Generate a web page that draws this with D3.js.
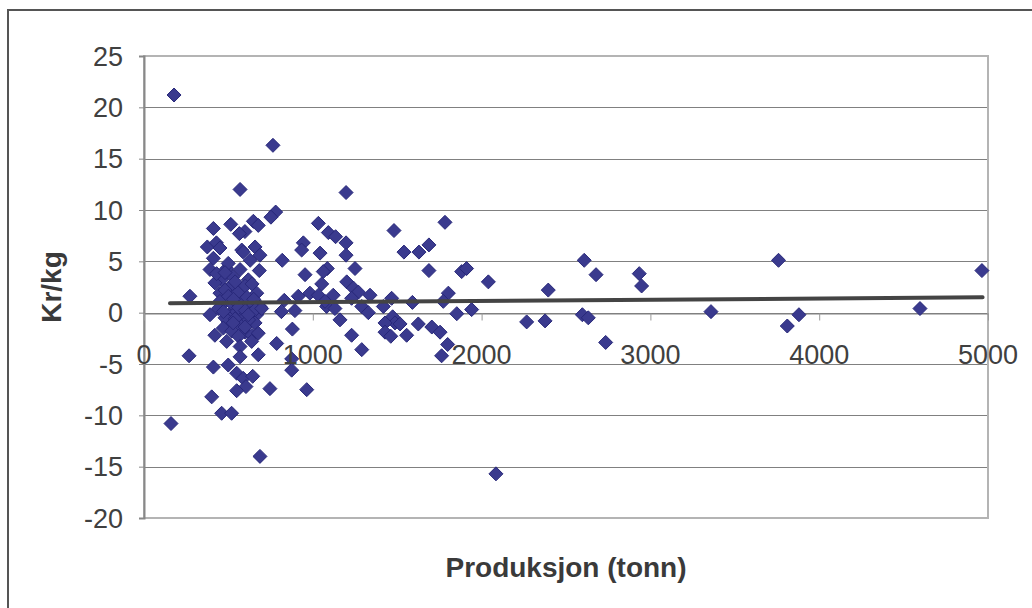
<!DOCTYPE html>
<html>
<head>
<meta charset="utf-8">
<script src="https://cdn.jsdelivr.net/npm/d3@7"></script>
<style>
  html, body { margin: 0; padding: 0; background: #fff; }
  svg { display: block; }
  text { font-family: "Liberation Sans", Arial, sans-serif; }
</style>
</head>
<body>
<svg id="chart" width="1032" height="608"></svg>
<script>
// Production per farm (tonn) and result (Kr/kg)
const produksjon = [
  178, 160, 272, 267, 569, 411, 514, 648, 677, 598, 565, 375, 429, 450, 579, 658,
  411, 629, 687, 391, 490, 569, 683, 460, 528, 618, 420, 510, 450, 569, 668, 470,
  629, 391, 510, 588, 668, 499, 588, 480, 558, 519, 588, 687, 450, 549, 629, 499,
  569, 658, 430, 480, 540, 600, 640, 500, 530, 610, 650, 440, 560, 600, 660, 480,
  540, 620, 470, 520, 600, 560, 640, 470, 618, 528, 598, 420, 490, 569, 638, 569,
  677, 411, 499, 549, 588, 644, 604, 549, 401, 460, 519, 687, 780, 752, 764, 944,
  934, 819, 954, 914, 831, 697, 814, 894, 677, 879, 786, 875, 875, 746, 964, 983,
  1033, 1092, 1135, 1197, 1197, 1043, 1481, 1783, 1540, 1629, 1688, 1250, 1086, 1062, 1688, 1882,
  1911, 2040, 1053, 1201, 1240, 1270, 1121, 1339, 1230, 1467, 1590, 1803, 1773, 1082, 1131, 1290,
  1418, 1329, 1853, 1941, 1161, 1473, 1487, 1428, 1517, 1625, 1705, 1754, 1428, 1462, 1556, 1230,
  1799, 1290, 1763, 1197, 2085, 1033, 1072, 2267, 2376, 2395, 2608, 2678, 2597, 2632, 2735, 2934,
  2948, 3359, 3759, 3880, 3811, 4597, 4964
];
const krPerKg = [
  21.2, -10.8, 1.6, -4.2, 12.0, 8.2, 8.6, 8.9, 8.5, 7.9, 7.7, 6.4, 6.8, 6.3, 6.1, 6.4,
  5.3, 5.1, 5.6, 4.2, 4.3, 4.2, 4.1, 3.2, 3.5, 3.2, 2.9, 2.5, 1.9, 2.2, 1.9, 0.9,
  0.8, -0.2, -0.1, -0.4, -0.2, 4.8, 5.9, 2.2, 2.0, 0.9, 1.1, 0.6, 1.1, 0.1, -0.1, -0.9,
  -1.2, -1.0, 3.8, 3.9, 3.0, 2.6, 2.8, 1.6, 1.3, 1.5, 1.3, 0.4, 0.5, 0.2, 0.3, -0.5,
  -0.6, -0.7, -1.5, -1.8, -1.9, -2.3, -2.2, 0.1, -0.2, -1.0, -1.4, -2.2, -2.8, -3.3, -2.8, -4.3,
  -4.1, -5.3, -5.1, -5.9, -6.4, -6.2, -7.2, -7.6, -8.2, -9.8, -9.8, -14.0, 9.8, 9.3, 16.3, 6.8,
  6.1, 5.1, 3.7, 1.6, 1.2, 0.4, 0.1, 0.2, -2.0, -1.6, -3.0, -4.5, -5.6, -7.4, -7.5, 1.9,
  8.7, 7.8, 7.4, 6.8, 5.6, 5.8, 8.0, 8.8, 5.9, 5.9, 6.6, 4.3, 4.3, 4.0, 4.1, 4.0,
  4.3, 3.0, 2.8, 3.0, 2.4, 2.0, 1.7, 1.7, 1.4, 1.4, 1.0, 1.9, 1.1, 0.6, 0.4, 0.6,
  0.6, 0.0, -0.1, 0.3, -0.7, -0.4, -1.0, -1.0, -1.1, -1.1, -1.4, -1.9, -1.9, -2.3, -2.2, -2.2,
  -3.1, -3.6, -4.2, 11.7, -15.7, 1.7, 1.1, -0.9, -0.8, 2.2, 5.1, 3.7, -0.2, -0.5, -2.9, 3.8,
  2.6, 0.1, 5.1, -0.2, -1.3, 0.4, 4.1
];

// Linear trend line (fitted coefficients) and its span
const trendIntercept = 0.90;
const trendSlope = 0.00012;
const trendRange = [154, 4968];

const xTicks = [0, 1000, 2000, 3000, 4000, 5000];
const yTicks = [25, 20, 15, 10, 5, 0, -5, -10, -15, -20];
const xTitle = "Produksjon (tonn)";
const yTitle = "Kr/kg";

const svg = d3.select("#chart");
const plot = { left: 144, top: 56, right: 988, bottom: 518 };

const x = d3.scaleLinear().domain([0, 5000]).range([plot.left, plot.right]);
const y = d3.scaleLinear().domain([-20, 25]).range([plot.bottom, plot.top]);

// Chart frame
svg.append("rect").attr("width", 1032).attr("height", 608).attr("fill", "#fff");
svg.append("path")
  .attr("d", "M8,608V10H1032")
  .attr("fill", "none").attr("stroke", "#555").attr("stroke-width", 2);

// Horizontal gridlines
svg.append("g")
  .selectAll("line")
  .data(yTicks.filter(v => v !== 25 && v !== -20))
  .join("line")
  .attr("x1", plot.left).attr("x2", plot.right)
  .attr("y1", d => Math.round(y(d)) + 0.5).attr("y2", d => Math.round(y(d)) + 0.5)
  .attr("stroke", "#808080").attr("stroke-width", 1);

// Plot area border
svg.append("rect")
  .attr("x", plot.left).attr("y", plot.top)
  .attr("width", plot.right - plot.left).attr("height", plot.bottom - plot.top)
  .attr("fill", "none").attr("stroke", "#b4b4b4").attr("stroke-width", 2);

// Y axis
const yAxis = d3.axisLeft(y).tickValues(yTicks).tickSize(5).tickFormat("");
const gy = svg.append("g").attr("transform", `translate(${plot.left},0)`).call(yAxis);
gy.select(".domain").attr("stroke", "#888").attr("stroke-width", 2);
gy.selectAll(".tick line").attr("stroke", "#888");

// X axis crosses at zero
const xAxis = d3.axisBottom(x).tickValues(xTicks).tickSize(7).tickSizeOuter(0).tickFormat("");
const gx = svg.append("g").attr("transform", `translate(0,${Math.round(y(0)) + 0.5})`).call(xAxis);
gx.select(".domain").attr("stroke", "#808080").attr("stroke-width", 1);
gx.selectAll(".tick line").attr("stroke", "#999");

// Data points as diamonds
const pts = produksjon.map((p, i) => ({ p, v: krPerKg[i] }));
svg.append("g")
  .selectAll("path")
  .data(pts)
  .join("path")
  .attr("d", "M0,-7L7,0L0,7L-7,0Z")
  .attr("transform", d => `translate(${x(d.p)},${y(d.v)})`)
  .attr("fill", "#3a3a8e")
  .attr("stroke", "#28287a")
  .attr("stroke-width", 1);

// Trend line
const line = d3.line().x(d => x(d)).y(d => y(trendIntercept + trendSlope * d));
svg.append("path")
  .attr("d", line(trendRange))
  .attr("fill", "none")
  .attr("stroke", "#444")
  .attr("stroke-width", 4)
  .attr("stroke-linecap", "round");

// Tick labels
svg.append("g")
  .selectAll("text")
  .data(yTicks)
  .join("text")
  .attr("x", 123)
  .attr("y", d => y(d) + 9.5)
  .attr("text-anchor", "end")
  .attr("font-size", 27)
  .attr("fill", "#404040")
  .text(d => d);

svg.append("g")
  .selectAll("text")
  .data(xTicks)
  .join("text")
  .attr("x", d => x(d))
  .attr("y", 364)
  .attr("text-anchor", "middle")
  .attr("font-size", 27)
  .attr("fill", "#404040")
  .text(d => d);

// Axis titles
svg.append("text")
  .attr("x", (plot.left + plot.right) / 2)
  .attr("y", 577)
  .attr("text-anchor", "middle")
  .attr("font-size", 28)
  .attr("font-weight", "bold")
  .attr("fill", "#3a3a3a")
  .text(xTitle);

svg.append("text")
  .attr("transform", "translate(61,287) rotate(-90)")
  .attr("text-anchor", "middle")
  .attr("font-size", 28)
  .attr("font-weight", "bold")
  .attr("fill", "#3a3a3a")
  .text(yTitle);
</script>
</body>
</html>
